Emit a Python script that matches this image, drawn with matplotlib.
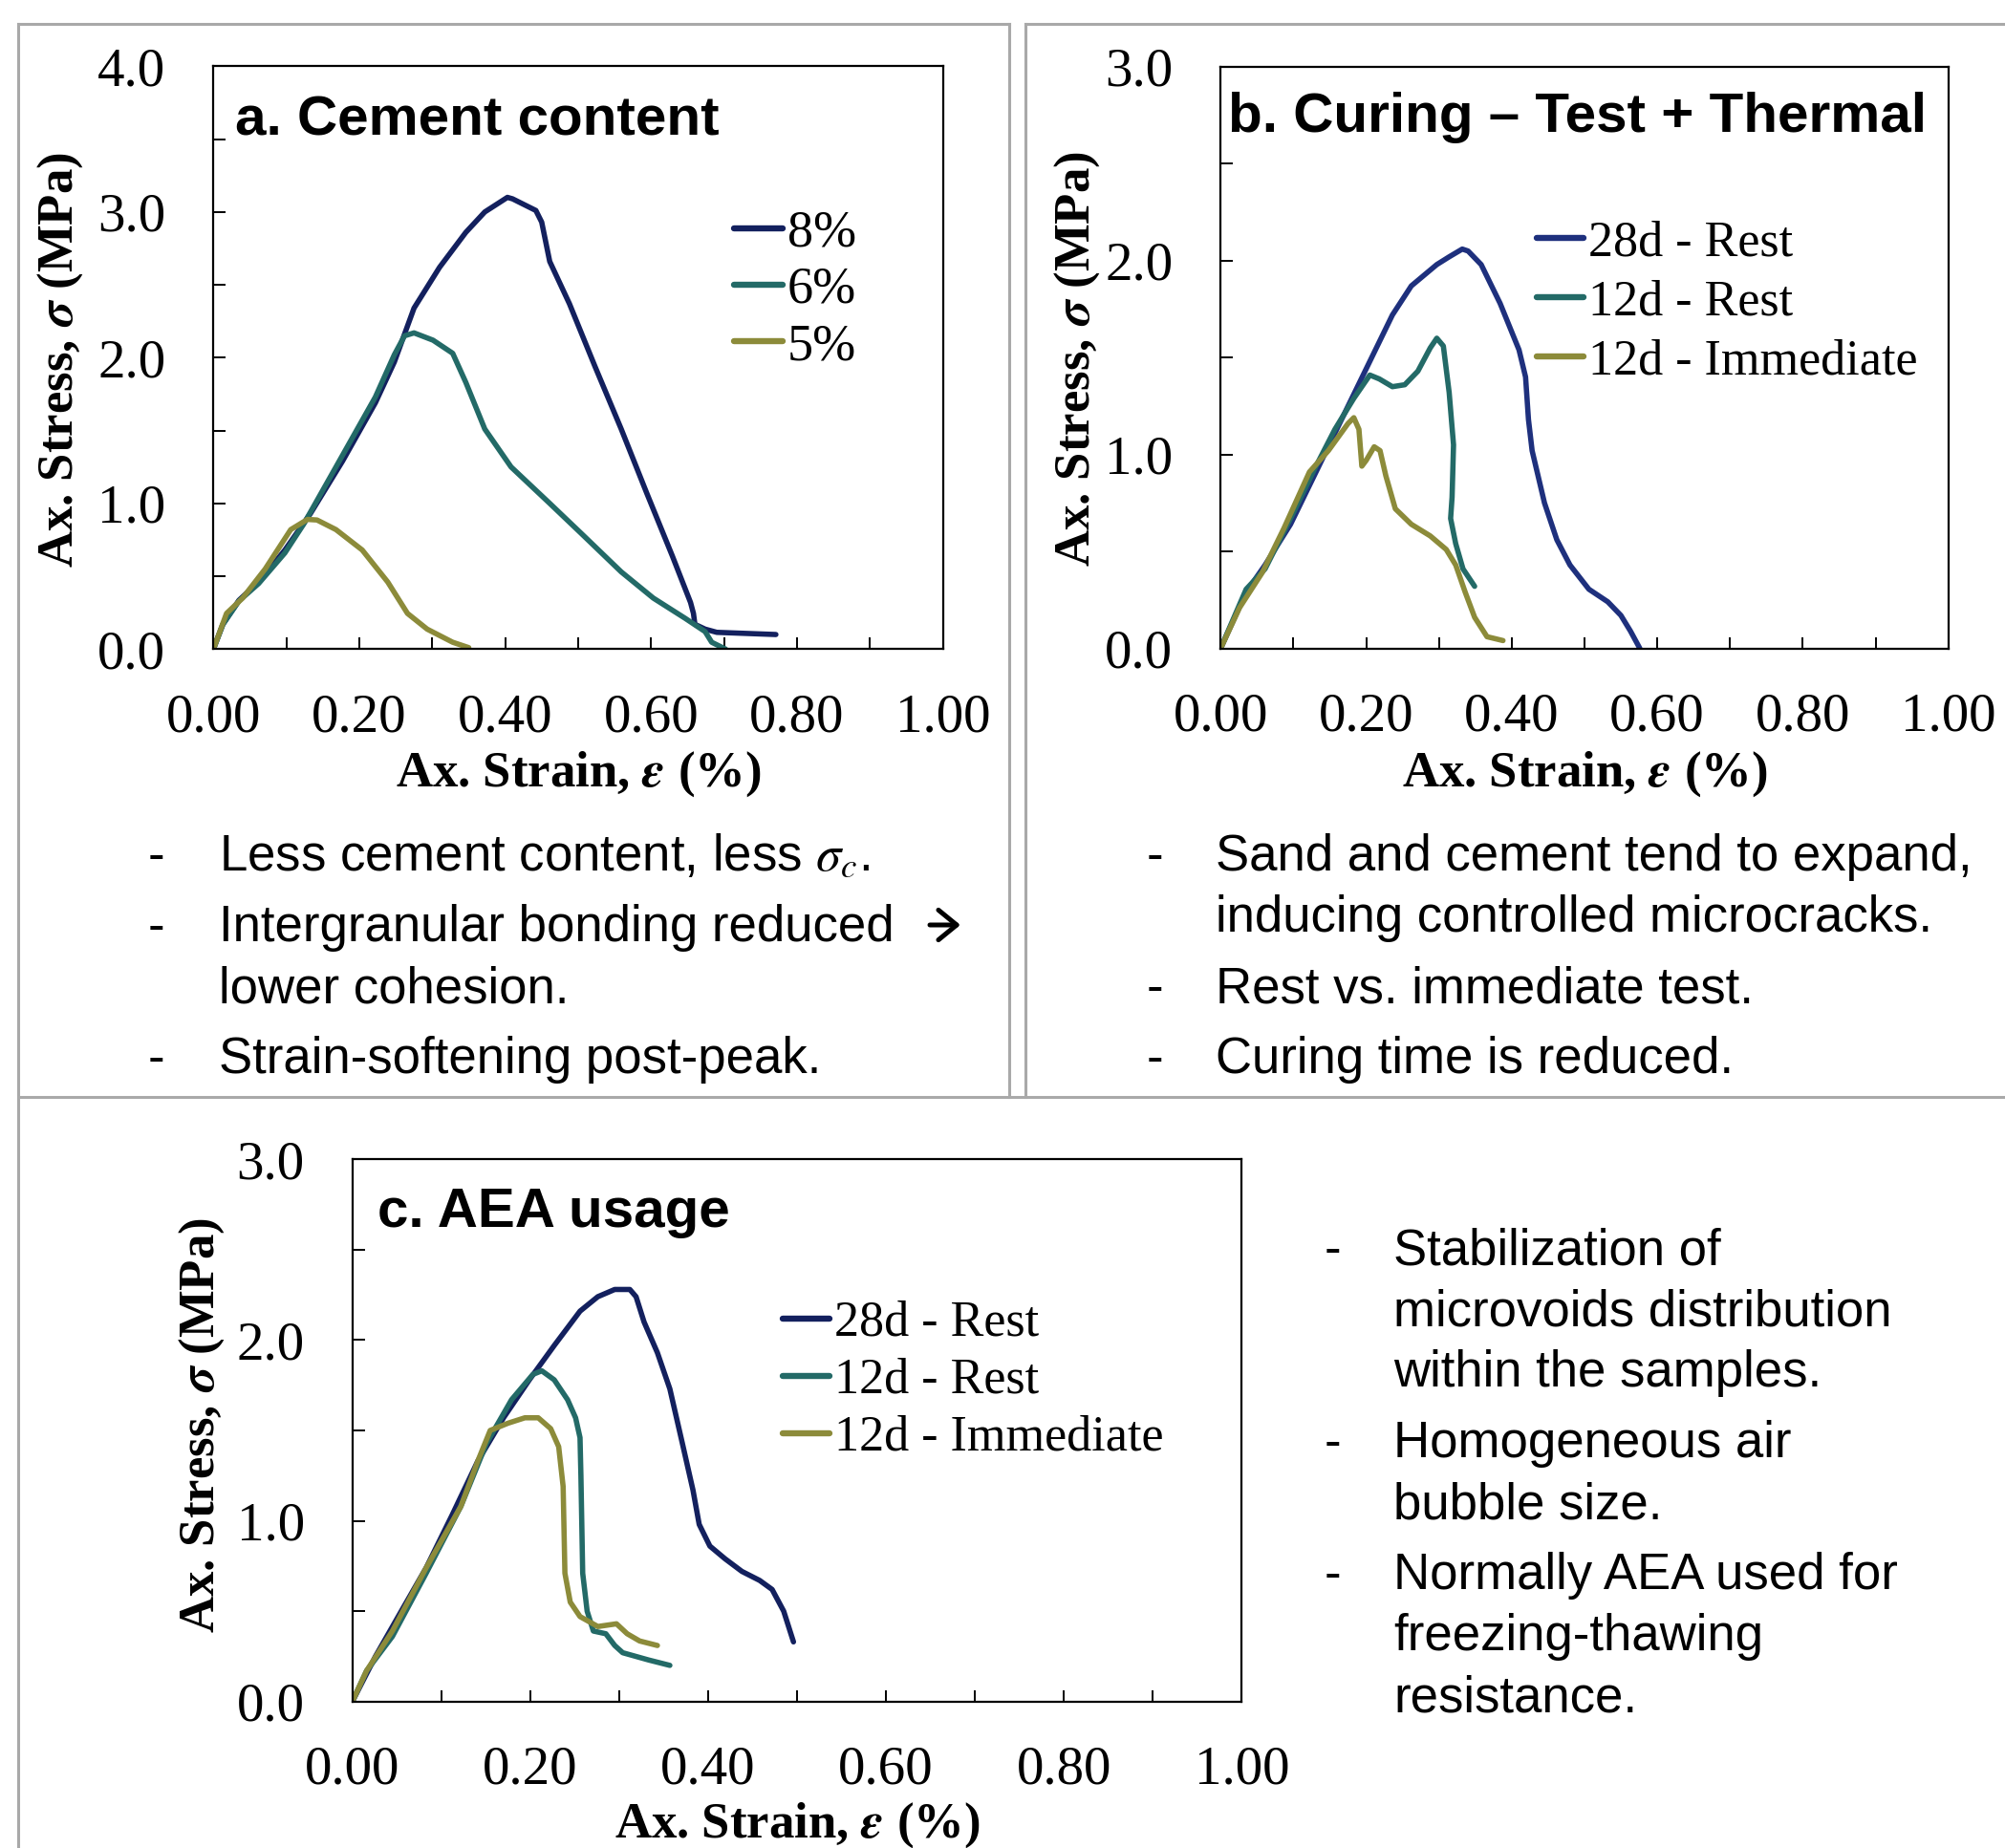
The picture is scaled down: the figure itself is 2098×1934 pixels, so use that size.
import numpy as np
import matplotlib
matplotlib.use("Agg")
import matplotlib.pyplot as plt
from matplotlib.lines import Line2D

# ---------------- data ----------------
# a. Cement content
a_8_x = [0.0, 0.013, 0.035, 0.062, 0.098, 0.133, 0.177, 0.222, 0.248, 0.275, 0.31, 0.346, 0.372,
         0.403, 0.41, 0.426, 0.442, 0.45, 0.461, 0.488, 0.523, 0.559, 0.594, 0.629, 0.654, 0.658,
         0.66, 0.674, 0.69, 0.771]
a_8_y = [0.0, 0.17, 0.335, 0.46, 0.68, 0.93, 1.29, 1.69, 1.97, 2.34, 2.62, 2.86, 3.0,
         3.10, 3.09, 3.05, 3.01, 2.93, 2.66, 2.37, 1.94, 1.51, 1.07, 0.64, 0.32, 0.245,
         0.17, 0.137, 0.115, 0.10]
a_6_x = [0.0, 0.013, 0.035, 0.062, 0.098, 0.124, 0.168, 0.222, 0.248, 0.262, 0.275, 0.301, 0.328,
         0.346, 0.372, 0.408, 0.461, 0.505, 0.559, 0.603, 0.647, 0.674, 0.683, 0.702]
a_6_y = [0.0, 0.17, 0.33, 0.45, 0.66, 0.86, 1.25, 1.73, 2.02, 2.15, 2.17, 2.12, 2.03,
         1.83, 1.51, 1.25, 1.0, 0.79, 0.53, 0.35, 0.21, 0.12, 0.047, 0.0]
a_5_x = [0.0, 0.018, 0.04, 0.071, 0.106, 0.129, 0.142, 0.168, 0.204, 0.239, 0.266, 0.293, 0.328, 0.35]
a_5_y = [0.0, 0.245, 0.35, 0.55, 0.82, 0.89, 0.886, 0.82, 0.68, 0.46, 0.245, 0.137, 0.047, 0.01]
a_labels = ["8%", "6%", "5%"]

# b. Curing - Test + Thermal
b_28r_x = [0.0, 0.035, 0.061, 0.096, 0.131, 0.166, 0.201, 0.236, 0.262, 0.297, 0.314, 0.332, 0.34,
           0.358, 0.384, 0.41, 0.419, 0.423, 0.428, 0.445, 0.462, 0.48, 0.506, 0.532, 0.55, 0.563, 0.576]
b_28r_y = [0.0, 0.29, 0.43, 0.64, 0.91, 1.18, 1.45, 1.72, 1.87, 1.98, 2.02, 2.06, 2.05,
           1.98, 1.78, 1.54, 1.40, 1.18, 1.02, 0.75, 0.56, 0.43, 0.305, 0.24, 0.17, 0.09, 0.0]
b_12r_x = [0.0, 0.035, 0.061, 0.096, 0.131, 0.157, 0.183, 0.205, 0.218, 0.236, 0.253, 0.271, 0.288,
           0.297, 0.306, 0.314, 0.32, 0.318, 0.316, 0.323, 0.333, 0.349]
b_12r_y = [0.0, 0.305, 0.41, 0.67, 0.94, 1.13, 1.29, 1.41, 1.39, 1.35, 1.36, 1.43, 1.55,
           1.60, 1.56, 1.32, 1.05, 0.78, 0.67, 0.54, 0.41, 0.32]
b_12i_x = [0.0, 0.026, 0.057, 0.087, 0.122, 0.148, 0.175, 0.183, 0.19, 0.194, 0.2, 0.211, 0.219,
           0.227, 0.24, 0.262, 0.288, 0.31, 0.323, 0.336, 0.349, 0.366, 0.388]
b_12i_y = [0.0, 0.21, 0.39, 0.62, 0.91, 1.02, 1.16, 1.19, 1.13, 0.94, 0.97, 1.04, 1.02,
           0.89, 0.72, 0.64, 0.58, 0.51, 0.43, 0.29, 0.16, 0.06, 0.04]

# c. AEA usage
c_28r_x = [0.0, 0.026, 0.055, 0.083, 0.112, 0.141, 0.17, 0.199, 0.227, 0.256, 0.276, 0.295, 0.312,
           0.319, 0.328, 0.343, 0.357, 0.371, 0.383, 0.39, 0.402, 0.419, 0.438, 0.458, 0.472, 0.485, 0.496]
c_28r_y = [0.0, 0.25, 0.50, 0.74, 1.03, 1.33, 1.57, 1.78, 1.97, 2.16, 2.24, 2.28, 2.28,
           2.24, 2.10, 1.93, 1.73, 1.43, 1.17, 0.98, 0.86, 0.79, 0.72, 0.67, 0.62, 0.50, 0.33]
c_12r_x = [0.0, 0.016, 0.045, 0.083, 0.122, 0.151, 0.179, 0.203, 0.213, 0.227, 0.242, 0.251, 0.256,
           0.257, 0.259, 0.264, 0.271, 0.285, 0.295, 0.304, 0.333, 0.357]
c_12r_y = [0.0, 0.17, 0.36, 0.71, 1.08, 1.43, 1.67, 1.81, 1.83, 1.78, 1.67, 1.57, 1.46,
           1.25, 0.71, 0.50, 0.39, 0.375, 0.31, 0.27, 0.23, 0.20]
c_12i_x = [0.0, 0.016, 0.045, 0.083, 0.122, 0.141, 0.155, 0.175, 0.194, 0.209, 0.223, 0.232, 0.237,
           0.239, 0.245, 0.256, 0.276, 0.297, 0.309, 0.323, 0.343]
c_12i_y = [0.0, 0.17, 0.39, 0.74, 1.08, 1.33, 1.50, 1.54, 1.57, 1.57, 1.51, 1.41, 1.19,
           0.71, 0.55, 0.47, 0.415, 0.43, 0.375, 0.335, 0.31]
bc_labels = ["28d - Rest", "12d - Rest", "12d - Immediate"]

bullets_a = [["Less cement content, less $\\sigma_c$."],
             ["Intergranular bonding reduced", "lower cohesion."],
             ["Strain-softening post-peak."]]
bullets_b = [["Sand and cement tend to expand,", "inducing controlled microcracks."],
             ["Rest vs. immediate test."],
             ["Curing time is reduced."]]
bullets_c = [["Stabilization of", "microvoids distribution", "within the samples."],
             ["Homogeneous air", "bubble size."],
             ["Normally AEA used for", "freezing-thawing", "resistance."]]

NAVY = "#13205e"
NAVY_B = "#1e307d"
TEAL = "#236a67"
OLIVE = "#8c8b3a"

# ---------------- layout ----------------
W, H = 2098, 1934
plt.rcParams["mathtext.fontset"] = "stix"
SERIF = ["Liberation Serif", "DejaVu Serif"]
SANS = ["Liberation Sans", "DejaVu Sans"]

fig = plt.figure(figsize=(W / 100, H / 100), dpi=100)


def fx(x):
    return x / W


def fy(y):
    return 1 - y / H


def px_axes(l, t, r, b):
    return fig.add_axes([fx(l), fy(b), (r - l) / W, (b - t) / H])


def style_axes(ax, ymax):
    ax.set_xlim(0, 1.0)
    ax.set_ylim(0, ymax)
    ax.set_xticks(np.arange(0, 1.01, 0.2))
    ax.set_xticks(np.arange(0, 1.01, 0.1), minor=True)
    ax.set_yticks(np.arange(0, ymax + 0.01, 1.0))
    ax.set_yticks(np.arange(0, ymax + 0.01, 0.5), minor=True)
    ax.set_xticklabels([f"{v:.2f}" for v in np.arange(0, 1.01, 0.2)])
    ax.set_yticklabels([f"{v:.1f}" for v in np.arange(0, ymax + 0.01, 1.0)])
    for s in ax.spines.values():
        s.set_linewidth(1.6)
    ax.tick_params(which="both", direction="in", length=9, width=1.4, top=False, right=False)
    ax.tick_params(axis="x", which="major", pad=33)
    ax.tick_params(axis="y", which="major", pad=36)
    for lab in ax.get_xticklabels() + ax.get_yticklabels():
        lab.set_fontfamily(SERIF)
        lab.set_fontsize(41)


def axis_labels(xc, xy, yx, yc):
    fig.text(fx(xc), fy(xy), r"Ax. Strain, $\mathbfit{\varepsilon}$ (%)", ha="center", va="center",
             fontsize=38, fontweight="bold", family=SERIF)
    fig.text(fx(yx), fy(yc), r"Ax. Stress, $\mathbfit{\sigma}$ (MPa)", ha="center", va="center",
             rotation=90, fontsize=38, fontweight="bold", family=SERIF)


def bullets(items, dash_x, text_x, y0):
    y = y0
    for item in items:
        fig.text(fx(dash_x), fy(y), "-", ha="center", va="baseline", fontsize=38, family=SANS)
        for line in item:
            fig.text(fx(text_x), fy(y), line, ha="left", va="baseline", fontsize=38, family=SANS)
            y += 64
        y += 10


def legend(ax, anchor, size, spacing):
    leg = ax.legend(loc="center left", bbox_to_anchor=anchor, frameon=False, borderpad=0,
                    borderaxespad=0, handlelength=0.95, handletextpad=0.08, labelspacing=spacing,
                    prop={"family": SERIF, "size": size})
    for h in leg.get_lines():
        h.set_linewidth(4.6)


LW = 4.0

# -------- panel a --------
ax_a = px_axes(223.3, 69.3, 986.7, 679.3)
ax_a.plot(a_8_x, a_8_y, color=NAVY, lw=LW, label=a_labels[0], solid_joinstyle="round", solid_capstyle="round")
ax_a.plot(a_6_x, a_6_y, color=TEAL, lw=LW, label=a_labels[1], solid_joinstyle="round", solid_capstyle="round")
ax_a.plot(a_5_x, a_5_y, color=OLIVE, lw=LW, label=a_labels[2], solid_joinstyle="round", solid_capstyle="round")
style_axes(ax_a, 4.0)
legend(ax_a, (0.7135, 0.6157), 39, 0.16)
fig.text(fx(246), fy(142), "a. Cement content", ha="left", va="baseline", fontsize=42,
         fontweight="bold", family=SANS)
axis_labels(605, 810, 63, 377)
bullets(bullets_a, 163, 229, 911)
# bold arrow after "reduced"
fig.add_artist(matplotlib.patches.FancyArrowPatch(
    (fx(973), fy(968)), (fx(1005), fy(968)), transform=fig.transFigure,
    arrowstyle="->,head_length=0.55,head_width=0.45", lw=3.6, color="black",
    mutation_scale=25, shrinkA=0, shrinkB=0))

# -------- panel b --------
ax_b = px_axes(1277.3, 70, 2038.7, 678.5)
ax_b.plot(b_28r_x, b_28r_y, color=NAVY_B, lw=LW, label=bc_labels[0], solid_joinstyle="round", solid_capstyle="round")
ax_b.plot(b_12r_x, b_12r_y, color=TEAL, lw=LW, label=bc_labels[1], solid_joinstyle="round", solid_capstyle="round")
ax_b.plot(b_12i_x, b_12i_y, color=OLIVE, lw=LW, label=bc_labels[2], solid_joinstyle="round", solid_capstyle="round")
style_axes(ax_b, 3.0)
legend(ax_b, (0.4343, 0.595), 37.5, 0.27)
fig.text(fx(1285), fy(138), "b. Curing \u2013 Test + Thermal", ha="left", va="baseline", fontsize=42,
         fontweight="bold", family=SANS)
axis_labels(1658, 810, 1127, 376)
bullets(bullets_b, 1208, 1272, 911)

# -------- panel c --------
ax_c = px_axes(368.7, 1213.3, 1299.3, 1780.7)
ax_c.plot(c_28r_x, c_28r_y, color=NAVY, lw=LW, label=bc_labels[0], solid_joinstyle="round", solid_capstyle="round")
ax_c.plot(c_12r_x, c_12r_y, color=TEAL, lw=LW, label=bc_labels[1], solid_joinstyle="round", solid_capstyle="round")
ax_c.plot(c_12i_x, c_12i_y, color=OLIVE, lw=LW, label=bc_labels[2], solid_joinstyle="round", solid_capstyle="round")
style_axes(ax_c, 3.0)
legend(ax_c, (0.4839, 0.592), 37.5, 0.23)
fig.text(fx(395), fy(1284), "c. AEA usage", ha="left", va="baseline", fontsize=42,
         fontweight="bold", family=SANS)
axis_labels(834, 1910, 211, 1492)
bullets(bullets_c, 1394, 1458, 1323)

# -------- grey panel frames --------
GREY = "#a9a9a9"
frame_segments = [
    ((19, 25), (1056, 25)), ((19, 25), (19, H)), ((1056, 25), (1056, 1148)),
    ((1073, 25), (W, 25)), ((1073, 25), (1073, 1148)),
    ((19, 1148), (W, 1148)),
]
for (x0, y0), (x1, y1) in frame_segments:
    fig.add_artist(Line2D([fx(x0), fx(x1)], [fy(y0), fy(y1)], transform=fig.transFigure,
                          color=GREY, lw=2.2))

fig.savefig("out.png", dpi=100)
